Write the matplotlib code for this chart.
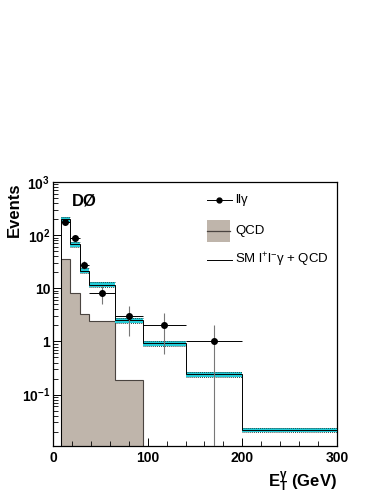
import matplotlib
matplotlib.use("Agg")
import matplotlib.pyplot as plt
import numpy as np
from matplotlib.lines import Line2D
from matplotlib.patches import Rectangle
from matplotlib.ticker import FixedLocator, LogLocator, MultipleLocator, NullFormatter

# ---------------------------------------------------------------------------
# Data
# ---------------------------------------------------------------------------
bin_edges = [8, 18, 28, 38, 65, 95, 140, 200, 300]
sm_total  = [200, 67, 21.5, 11.7, 2.5, 0.93, 0.243, 0.0217]
qcd       = [35, 8.0, 3.3, 2.45, 0.184]
data_obs  = [175, 88, 28, 8, 3, 2, 1]
band_frac = 0.10

y_ticks       = [0.1, 1, 10, 100, 1000]
y_tick_labels = [r"10$^{\mathbf{-1}}$", "1", "10", r"10$^{\mathbf{2}}$", r"10$^{\mathbf{3}}$"]
x_ticks       = [0, 100, 200, 300]

CYAN     = "#22ccd8"
QCD_FILL = "#bfb5ab"
QCD_EDGE = "#4a4440"

plt.rcParams.update({
    "font.family": ["Liberation Sans", "DejaVu Sans"],
    "mathtext.fontset": "custom",
    "mathtext.rm": "Liberation Sans",
    "mathtext.it": "Liberation Sans:italic",
    "mathtext.bf": "Liberation Sans:bold",
})

edges = np.array(bin_edges, dtype=float)
sm = np.array(sm_total)
centers = 0.5 * (edges[:-1] + edges[1:])
halfw = 0.5 * (edges[1:] - edges[:-1])

fig = plt.figure(figsize=(3.83, 4.95), dpi=100)
ax = fig.add_axes([0.1384, 0.1, 0.7416, 0.5323])
ax.set_yscale("log")

# QCD
ax.stairs(qcd, edges[:len(qcd) + 1], baseline=1e-5, fill=True,
          facecolor=QCD_FILL, edgecolor="none", zorder=1)
ax.stairs(qcd, edges[:len(qcd) + 1], baseline=1e-5, color=QCD_EDGE, lw=0.8, zorder=2)

# SM + QCD with uncertainty band
lo, hi = sm * (1 - band_frac), sm * (1 + band_frac)
ax.stairs(hi, edges, baseline=lo, fill=True, color=CYAN, lw=0, zorder=3)
ax.hlines(hi, edges[:-1], edges[1:], colors="#2a4a4a", linestyles=(0, (1, 1)), lw=0.7, zorder=4)
ax.hlines(lo, edges[:-1], edges[1:], colors="#2a4a4a", linestyles=(0, (1, 1)), lw=0.7, zorder=4)
ax.stairs(sm, edges, baseline=1e-5, color="black", lw=0.7, zorder=5)

# data: grey vertical errors, black horizontal bin widths
n = len(data_obs)
d = np.array(data_obs, dtype=float)
err = np.sqrt(d)
err_lo = np.minimum(err, d * 0.999999)
ax.vlines(centers[:n], d - err_lo, d + err, colors="#777777", lw=0.8, zorder=6)
ax.hlines(d, centers[:n] - halfw[:n], centers[:n] + halfw[:n], colors="black", lw=0.7, zorder=6)
ax.plot(centers[:n], d, "o", ms=4, color="black", zorder=7)

ax.set_xlim(0, 300)
ax.set_ylim(0.011, 1000)

ax.yaxis.set_major_locator(FixedLocator(y_ticks))
ax.set_yticklabels(y_tick_labels, fontweight="bold", fontsize=10)
ax.yaxis.set_minor_locator(LogLocator(base=10, subs=np.arange(2, 10)))
ax.yaxis.set_minor_formatter(NullFormatter())
ax.set_xticks(x_ticks)
ax.set_xticklabels([str(t) for t in x_ticks], fontweight="bold", fontsize=10)
ax.xaxis.set_minor_locator(MultipleLocator(20))
ax.tick_params(which="both", direction="in", top=False, right=False)
ax.tick_params(which="major", length=6, width=0.7)
ax.tick_params(which="minor", length=3.5, width=0.6)
ax.tick_params(axis="y", pad=2)
ax.tick_params(axis="x", pad=4)
for s in ax.spines.values():
    s.set_linewidth(0.9)

ax.set_ylabel("Events", loc="top", fontweight="bold", fontsize=12, labelpad=0)
ax.set_xlabel(r"$\mathbf{E_T^{\gamma}}$ (GeV)", loc="right", fontweight="bold",
              fontsize=12, labelpad=3)
ax.text(0.067, 0.928, "DØ", transform=ax.transAxes, fontweight="bold",
        fontsize=12, va="center", ha="left")

# legend, drawn by hand in axes coordinates
tr = ax.transAxes
lx0, lx1, tx = 0.542, 0.630, 0.641
ax.add_line(Line2D([lx0, lx1], [0.932, 0.932], color="black", lw=0.7, transform=tr))
ax.add_line(Line2D([(lx0 + lx1) / 2], [0.932], color="black", marker="o", ms=3.5,
                   transform=tr))
ax.text(tx, 0.932, "llγ", transform=tr, fontsize=9.5, va="center", ha="left")

ax.add_patch(Rectangle((lx0, 0.772), 0.081, 0.084, facecolor=QCD_FILL,
                       edgecolor="none", transform=tr))
ax.add_line(Line2D([lx0, lx0 + 0.081], [0.814, 0.814], color=QCD_EDGE, lw=0.9, transform=tr))
ax.text(tx, 0.814, "QCD", transform=tr, fontsize=9.5, va="center", ha="left")

ax.add_line(Line2D([lx0, lx1], [0.704, 0.704], color="black", lw=0.7, transform=tr))
ax.text(tx, 0.704, r"SM l$^{+}$l$^{-}$γ + QCD", transform=tr, fontsize=9.5,
        va="center", ha="left")

fig.savefig("out.png", dpi=100)
